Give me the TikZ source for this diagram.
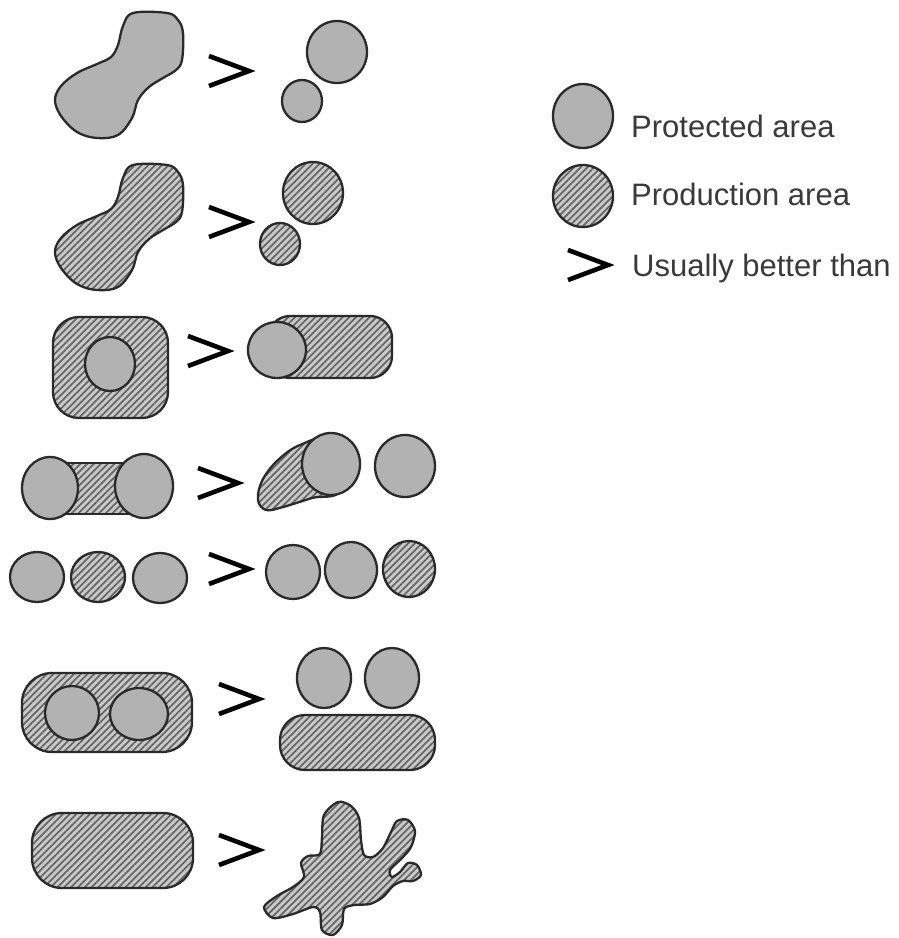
\documentclass[tikz,border=0pt]{standalone}
\usepackage{fontspec}
\setmainfont{Liberation Sans}
\usetikzlibrary{patterns.meta}
\definecolor{protc}{HTML}{B2B2B2}
\definecolor{hbase}{HTML}{C8C8C8}
\definecolor{hline}{HTML}{606060}
\definecolor{outl}{HTML}{2A2A2A}
\definecolor{txtc}{HTML}{3A3A3A}
\tikzset{
  prot/.style={draw=outl, line width=2.3pt, fill=protc},
  hatch/.style={draw=outl, line width=2.3pt, preaction={fill=hbase},
    pattern={Lines[angle=45,distance=4.8pt,line width=1.6pt]}, pattern color=hline},
  gtsym/.style={draw=black, line width=4.6pt, line join=miter},
  gtpic/.pic={\draw[gtsym] (-20,-15) -- (20,0) -- (-20,15);},
  legtext/.style={anchor=base west, text=txtc, font=\fontsize{31}{36}\selectfont, inner sep=0pt}
}
\begin{document}
\begin{tikzpicture}[x=1pt,y=-1pt]
\useasboundingbox (0,0) rectangle (899,938);
\fill[white] (0,0) rectangle (899,938);

% ---------- Row 1 ----------
\draw[prot] plot[smooth cycle, tension=0.6] coordinates {
  (133,13) (167,13) (178,20) (183,33) (182,60) (176,70) (163,78) (149,87) (138,100)
  (132,118) (118,135) (97,138) (77,132) (61,116) (55,100) (61,86) (77,73) (97,64)
  (111,57) (118,45) (123,26)};
\pic at (229,71) {gtpic};
\draw[prot] (337,52) ellipse [x radius=30pt, y radius=31pt];
\draw[prot] (302,101) ellipse [x radius=20pt, y radius=21pt];

% ---------- Row 2 ----------
\begin{scope}[yshift=-152pt]
\draw[hatch] plot[smooth cycle, tension=0.6] coordinates {
  (133,13) (167,13) (178,20) (183,33) (182,60) (176,70) (163,78) (149,87) (138,100)
  (132,118) (118,135) (97,138) (77,132) (61,116) (55,100) (61,86) (77,73) (97,64)
  (111,57) (118,45) (123,26)};
\end{scope}
\pic at (229,222) {gtpic};
\draw[hatch] (313,193) ellipse [x radius=30pt, y radius=31pt];
\draw[hatch] (280,244) ellipse [x radius=20pt, y radius=21pt];

% ---------- Row 3 ----------
\draw[hatch, rounded corners=26pt] (53,317) rectangle (168,418);
\draw[prot] (110,364) ellipse [x radius=25pt, y radius=27pt];
\pic at (208,351) {gtpic};
\draw[hatch, rounded corners=22pt] (268,316) rectangle (392,378);
\draw[prot] (277,350) ellipse [x radius=29pt, y radius=28pt];

% ---------- Row 4 ----------
\draw[hatch] (50,463) rectangle (144,514);
\draw[prot] (50,488) ellipse [x radius=28pt, y radius=31pt];
\draw[prot] (144,486) ellipse [x radius=29pt, y radius=32pt];
\pic at (218,483) {gtpic};
\draw[hatch] plot[smooth cycle, tension=0.6] coordinates {
  (331,440) (300,445) (277,461) (262,481) (258,500) (266,510) (283,507) (312,498) (340,490)};
\draw[prot] (331,464) ellipse [x radius=29pt, y radius=31pt];
\draw[prot] (405,466) ellipse [x radius=30pt, y radius=31pt];

% ---------- Row 5 ----------
\draw[prot]  (37,577) ellipse [x radius=27pt, y radius=25pt];
\draw[hatch] (98,577) ellipse [x radius=27pt, y radius=25pt];
\draw[prot]  (160,578) ellipse [x radius=27pt, y radius=25pt];
\pic at (229,569) {gtpic};
\draw[prot]  (293,572) ellipse [x radius=27pt, y radius=27pt];
\draw[prot]  (351,570) ellipse [x radius=26pt, y radius=28pt];
\draw[hatch] (409,569) ellipse [x radius=26pt, y radius=28pt];

% ---------- Row 6 ----------
\draw[hatch, rounded corners=30pt] (22,673) rectangle (192,752);
\draw[prot] (72,713) ellipse [x radius=27pt, y radius=27pt];
\draw[prot] (139,714) ellipse [x radius=29pt, y radius=26pt];
\pic at (239,699) {gtpic};
\draw[prot] (324,678) ellipse [x radius=27pt, y radius=30pt];
\draw[prot] (392,678) ellipse [x radius=27pt, y radius=30pt];
\draw[hatch, rounded corners=25pt] (280,715) rectangle (435,770);

% ---------- Row 7 ----------
\draw[hatch, rounded corners=30pt] (32,813) rectangle (193,888);
\pic at (239,850) {gtpic};
\draw[hatch] plot[smooth cycle, tension=0.5] coordinates {
  (338,802) (351,806) (359,818) (361,840) (364,855) (373,857) (383,848) (391,832)
  (397,821) (408,820) (415,831) (411,847) (402,858) (390,870) (392,877) (400,872)
  (408,863) (417,865) (421,875) (413,881) (403,881) (393,886) (383,897) (370,904)
  (354,905) (344,909) (342,925) (333,935) (322,930) (320,912) (313,907) (293,914)
  (273,918) (264,907) (277,896) (293,887) (304,877) (301,863) (308,856) (320,854)
  (322,837) (324,815)};

% ---------- Legend ----------
\draw[prot] (583,116) ellipse [x radius=30pt, y radius=32pt];
\node[legtext] (lprot) at (631,137) {Protected area};
\draw[hatch] (583,196) ellipse [x radius=30pt, y radius=31pt];
\node[legtext] (lprod) at (631,205) {Production area};
\pic at (588,265) {gtpic};
\node[legtext] (lbetter) at (632,276) {Usually better than};
\end{tikzpicture}
\end{document}
